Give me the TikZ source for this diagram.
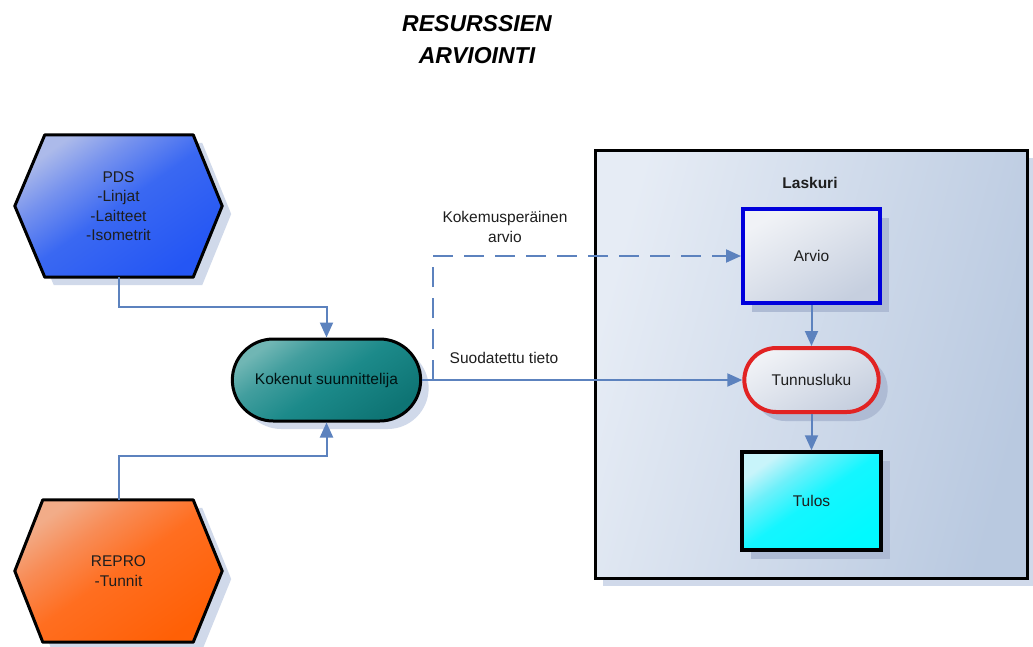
\documentclass[tikz,border=0pt]{standalone}
\usepackage{fontspec}
\setmainfont{Liberation Sans}
\usetikzlibrary{arrows.meta,shadows,calc,shapes.misc,backgrounds}

\definecolor{linkblue}{HTML}{5C82BE}
\definecolor{panellight}{HTML}{E6ECF5}
\definecolor{paneldark}{HTML}{B9C9E0}
\definecolor{boxlight}{HTML}{F0F2F6}
\definecolor{boxdark}{HTML}{C6CFDF}
\definecolor{outshadow}{HTML}{D0D9EA}
\definecolor{inshadow}{HTML}{AEBBD4}
\definecolor{txt}{HTML}{1E1E1E}

% gradients that are light only towards one corner
\pgfdeclareverticalshading{pdsshade}{100bp}{%
  color(0bp)=(rgb,255:red,36;green,86;blue,244); color(25bp)=(rgb,255:red,36;green,86;blue,244);
  color(50bp)=(rgb,255:red,58;green,104;blue,242); color(64bp)=(rgb,255:red,118;green,146;blue,238);
  color(75bp)=(rgb,255:red,172;green,186;blue,234); color(100bp)=(rgb,255:red,172;green,186;blue,234)}
\pgfdeclareverticalshading{reproshade}{100bp}{%
  color(0bp)=(rgb,255:red,255;green,96;blue,6); color(25bp)=(rgb,255:red,255;green,96;blue,6);
  color(50bp)=(rgb,255:red,255;green,110;blue,32); color(64bp)=(rgb,255:red,248;green,140;blue,86);
  color(75bp)=(rgb,255:red,242;green,172;blue,136); color(100bp)=(rgb,255:red,242;green,172;blue,136)}
\pgfdeclareverticalshading{tealshade}{100bp}{%
  color(0bp)=(rgb,255:red,14;green,116;blue,116); color(25bp)=(rgb,255:red,14;green,116;blue,116);
  color(48bp)=(rgb,255:red,28;green,138;blue,138); color(64bp)=(rgb,255:red,66;green,158;blue,158);
  color(75bp)=(rgb,255:red,112;green,182;blue,180); color(100bp)=(rgb,255:red,112;green,182;blue,180)}
\pgfdeclareverticalshading{cyanshade}{100bp}{%
  color(0bp)=(rgb,255:red,0;green,250;blue,255); color(25bp)=(rgb,255:red,0;green,250;blue,255);
  color(50bp)=(rgb,255:red,20;green,246;blue,255); color(64bp)=(rgb,255:red,110;green,240;blue,250);
  color(75bp)=(rgb,255:red,200;green,244;blue,250); color(100bp)=(rgb,255:red,200;green,244;blue,250)}

\tikzset{
  bodyfont/.style={font=\fontsize{15.5}{19.5}\selectfont, text=txt},
  hexnode/.style={bodyfont, minimum width=207pt, minimum height=142pt,
    align=center, inner sep=0pt},
  hexshape/.style={draw=black, line width=3pt, line join=round,
    drop shadow={shadow xshift=9pt, shadow yshift=-8pt, fill=outshadow, opacity=1}},
  outshade/.style={drop shadow={shadow xshift=8pt, shadow yshift=-8pt, fill=outshadow, opacity=1}},
  inshade/.style={drop shadow={shadow xshift=9pt, shadow yshift=-9pt, fill=inshadow, opacity=1}},
  link/.style={draw=linkblue, line width=2pt, -{Triangle[length=15pt,width=13pt]}},
  dashlink/.style={link, dash pattern=on 20pt off 11pt},
  label/.style={bodyfont, align=center, inner sep=0pt},
}

\begin{document}
\begin{tikzpicture}[x=1pt,y=-1pt]
  \useasboundingbox (0,0) rectangle (1033,646);

  % heading
  \node[font=\fontsize{23}{32}\selectfont\bfseries\itshape, align=center, text=black]
    (title) at (477,40) {RESURSSIEN\\ARVIOINTI};

  % source systems
  \node[hexnode] (pds) at (118.5,206) {PDS\\-Linjat\\-Laitteet\\-Isometrit};
  \node[hexnode] (repro) at (118.5,571) {REPRO\\-Tunnit};
  \begin{scope}[on background layer]
    \fill[white] (0,0) rectangle (1033,646);
    \path[hexshape, shading=pdsshade, shading angle=35]
      (pds.west) -- ($(pds.north west)+(30,0)$) -- ($(pds.north east)+(-29,0)$)
      -- (pds.east) -- ($(pds.south east)+(-29,0)$) -- ($(pds.south west)+(30,0)$) -- cycle;
    \path[hexshape, shading=reproshade, shading angle=35]
      (repro.west) -- ($(repro.north west)+(28,0)$) -- ($(repro.north east)+(-29,0)$)
      -- (repro.east) -- ($(repro.south east)+(-29,0)$) -- ($(repro.south west)+(28,0)$) -- cycle;
  \end{scope}

  % designer
  \node[rounded rectangle, draw=black, line width=3pt, outshade,
        shading=tealshade, shading angle=35,
        minimum width=195pt, minimum height=82pt, bodyfont, text=black!85!teal]
    (kok) at (326.5,380) {Kokenut suunnittelija};

  % calculator panel
  \node[draw=black, line width=3pt, outshade,
        left color=panellight, right color=paneldark, shading angle=75,
        minimum width=432pt, minimum height=428pt, inner sep=0pt]
    (laskuri) at (811,364) {};
  \node[bodyfont, font=\fontsize{15.5}{19.5}\selectfont\bfseries] (laskurititle) at (810,183) {Laskuri};

  \node[draw={rgb,255:red,0;green,0;blue,220}, line width=4pt, inshade,
        top color=boxlight, bottom color=boxdark, shading angle=30,
        minimum width=137pt, minimum height=94pt, bodyfont]
    (arvio) at (811.5,256) {Arvio};
  \node[rounded rectangle, draw={rgb,255:red,225;green,35;blue,35}, line width=4pt, inshade,
        top color=boxlight, bottom color=boxdark, shading angle=30,
        minimum width=141pt, minimum height=64pt, bodyfont]
    (tunnus) at (811.5,380) {Tunnusluku};
  \node[draw=black, line width=3.5pt, inshade,
        shading=cyanshade, shading angle=35,
        minimum width=139pt, minimum height=98pt, bodyfont]
    (tulos) at (811.5,501) {Tulos};

  % connectors
  \draw[link] (pds.south) -- ++(0,30) -| (kok.north);
  \draw[link] (repro.north) -- ++(0,-44) -| (kok.south);
  \draw[link] (kok.east) -- (tunnus.west);
  \coordinate (split) at (433,380);
  \draw[dashlink] (split) |- (arvio.west);
  \draw[link] (arvio.south) -- (tunnus.north);
  \draw[link] (tunnus.south) -- (tulos.north);

  % connector labels
  \node[label] (kokemus) at (505,227) {Kokemusperäinen\\arvio};
  \node[label] (suodatettu) at (504,358) {Suodatettu tieto};
\end{tikzpicture}
\end{document}
